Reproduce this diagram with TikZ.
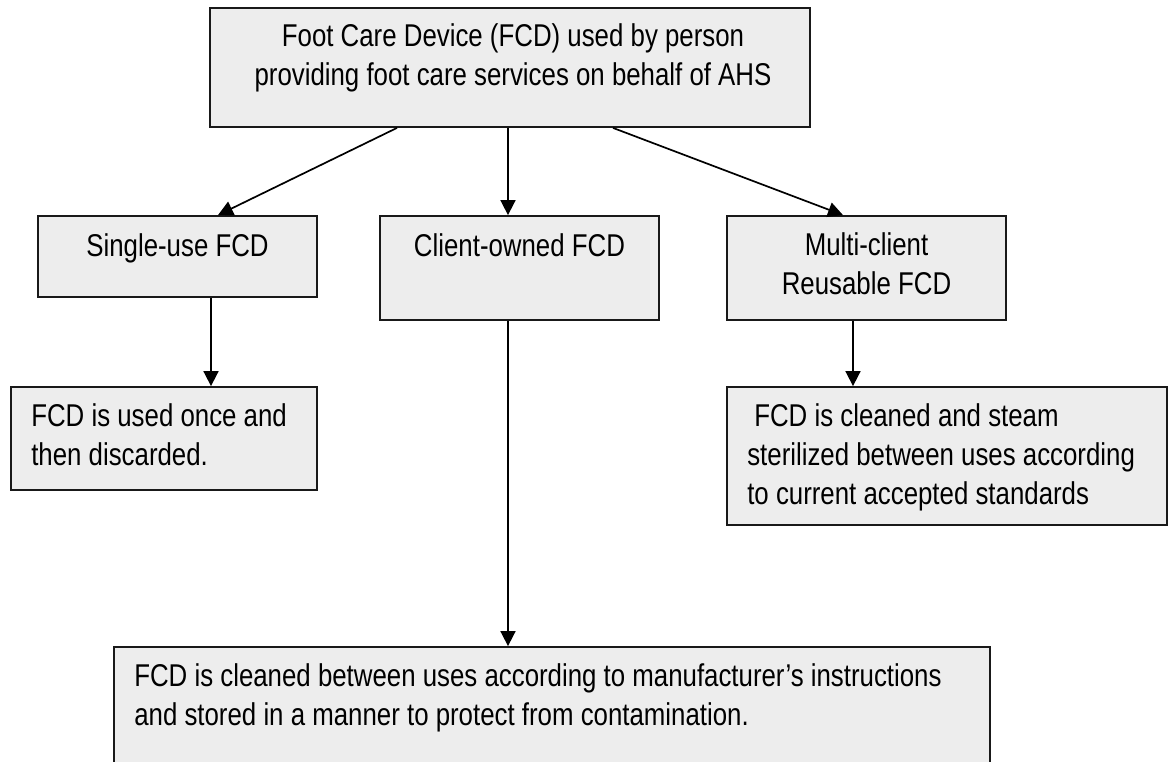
\documentclass[tikz,border=0pt]{standalone}
\usepackage{fontspec}
\setmainfont{Liberation Sans}[FakeStretch=0.82]
\usetikzlibrary{arrows.meta,calc}

\tikzset{
  box/.style={draw=black!90, fill=black!7, line width=1.8pt, inner sep=0pt},
  txt/.style={inner sep=0pt, font=\fontsize{31.5}{39}\selectfont},
  arr/.style={line width=1.7pt, -{Triangle[length=15pt,width=15pt]}}
}

\begin{document}
\begin{tikzpicture}[x=1pt,y=-1pt]
        % Рамка рисунка 1170x761
        \useasboundingbox (0,0) rectangle (1170,761);
        \clip (0,0) rectangle (1170,761);

        % Прямокутники
        \node[box, minimum width=600pt, minimum height=119pt] (fcd) at (510,67.5) {};
        \node[box, minimum width=279pt, minimum height=81pt] (single) at (177.5,256.5) {};
        \node[box, minimum width=279pt, minimum height=104pt] (client) at (519.5,268) {};
        \node[box, minimum width=279pt, minimum height=104pt] (multi) at (866.5,268) {};
        \node[box, minimum width=306pt, minimum height=103pt] (once) at (164,438.5) {};
        \node[box, minimum width=440pt, minimum height=138pt] (steril) at (947,456) {};
        \node[box, minimum width=876pt, minimum height=153pt] (clean) at (552,723.5) {}; % низ обрізано

        % Тексти
        \node[txt, anchor=north, align=center] at ($(fcd.north)+(3,16)$)
          {Foot Care Device (FCD) used by person\\providing foot care services on behalf of AHS};
        \node[txt, anchor=north] at ($(single.north)+(0,18)$) {Single-use FCD};
        \node[txt, anchor=north] at ($(client.north)+(0,18)$) {Client-owned FCD};
        \node[txt, anchor=north, align=center] at ($(multi.north)+(0,17)$) {Multi-client\\Reusable FCD};
        \node[txt, anchor=north west, align=left] at ($(once.north west)+(21,17)$)
          {FCD is used once and\\then discarded.};
        \node[txt, anchor=north west, align=left] at ($(steril.north west)+(21,17)$)
          {\hspace*{7pt}FCD is cleaned and steam\\sterilized between uses according\\to current accepted standards};
        \node[txt, anchor=north west, align=left] at ($(clean.north west)+(21,17)$)
          {FCD is cleaned between uses according to manufacturer's instructions\\and stored in a manner to protect from contamination.};

        % Стрілки від верхнього блоку
        \draw[arr] ([xshift=-113pt]fcd.south) -- ([xshift=40.5pt]single.north);
        \draw[arr] ([xshift=-2pt]fcd.south) -- ([xshift=-11.5pt]client.north);
        \draw[arr] ([xshift=103pt]fcd.south) -- ([xshift=-23.5pt]multi.north);

        % Вертикальні стрілки
        \coordinate (s1) at ([xshift=33.5pt]single.south);
        \coordinate (s2) at ([xshift=-11.5pt]client.south);
        \coordinate (s3) at ([xshift=-13.5pt]multi.south);
        \draw[arr] (s1) -- (s1 |- once.north);
        \draw[arr] (s2) -- (s2 |- clean.north);
        \draw[arr] (s3) -- (s3 |- steril.north);
    \end{tikzpicture}
\end{document}
